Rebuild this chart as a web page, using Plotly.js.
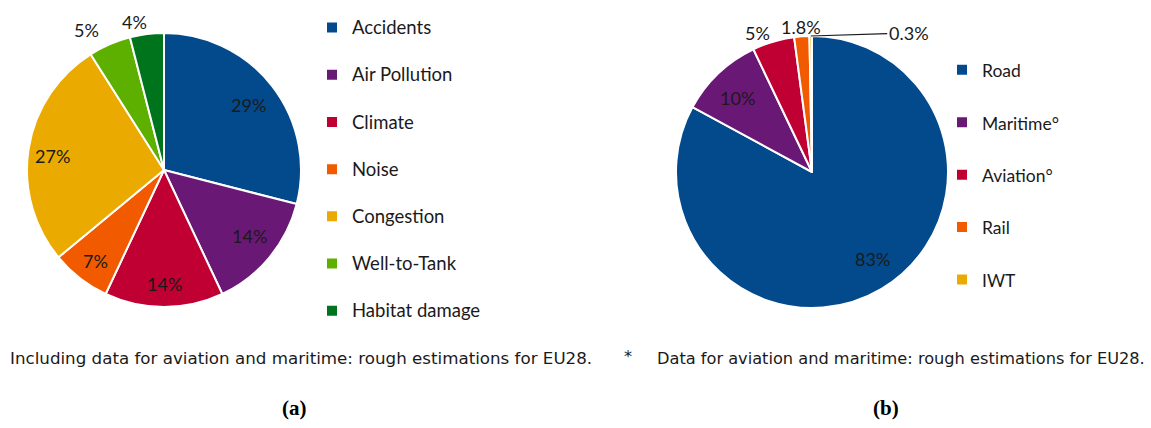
<!DOCTYPE html>
<html>
<head>
<meta charset="utf-8">
<script src="https://cdn.plot.ly/plotly-3.0.1.min.js"></script>
<style>html,body{margin:0;padding:0;background:#fff;}#chart{width:1151px;height:428px;}</style>
</head>
<body>
<div id="chart"></div>
<script>
// ---- data ----
const costCategories = ["Accidents", "Air Pollution", "Climate", "Noise", "Congestion", "Well-to-Tank", "Habitat damage"];
const costShares = [29, 14, 14, 7, 27, 5, 4];

const modeCategories = ["Road", "Maritime°", "Aviation°", "Rail", "IWT"];
const modeShares = [83, 10, 5, 1.8, 0.3];

const footnoteA = "Including data for aviation and maritime: rough estimations for EU28.";
const footnoteB = "Data for aviation and maritime: rough estimations for EU28.";
const panelA = "(a)";
const panelB = "(b)";

// ---- styles ----
const costColors = ["#034A8C", "#6A1876", "#C00033", "#F25A00", "#EBAA00", "#5EB000", "#00731D"];
const modeColors = ["#034A8C", "#6A1876", "#C00033", "#F25A00", "#EBAA00"];
// label placement: radial factor and angular shift (deg) relative to slice middle
const costLabelR = [0.78, 0.79, 0.83, 0.83, 0.82, 1.17, 1.10];
const costLabelShift = [0, -2, 0, -1, -2, -5.4, -3.9];
const modeLabelR = [0.78, 0.77, 1.10, 1.07, null];
const modeLabelShift = [-3.7, -1.8, -5, 0, 0];

const W = 1151, H = 428;
const px = v => v / W;
const py = v => 1 - v / H;

const pieA = {cx: 164, cy: 170, r: 137};
const pieB = {cx: 812, cy: 172, r: 136};

const legendLabel = (arr, size) => arr.map(s => '<span style="font-size:' + size + 'px">' + s + '</span><br> ');

function pieTrace(cats, vals, colors, geo, legendId, legSize) {
  return {
    type: "pie",
    labels: legendLabel(cats, legSize),
    values: vals,
    textinfo: "none",
    sort: false,
    direction: "clockwise",
    rotation: 0,
    marker: {colors: colors, line: {color: "#ffffff", width: 2}},
    domain: {x: [px(geo.cx - geo.r), px(geo.cx + geo.r)], y: [py(geo.cy + geo.r), py(geo.cy - geo.r)]},
    legend: legendId,
    hoverinfo: "percent"
  };
}

const labelFont = {family: "Lato, 'Open Sans', sans-serif", size: 18, color: "#1a1a1a"};

function sliceLabels(vals, geo, rf, shift) {
  const total = vals.reduce((a, b) => a + b, 0);
  let cum = 0;
  const out = [];
  vals.forEach((v, i) => {
    const mid = (cum + v / 2) / total;
    cum += v;
    const txt = v + "%";
    const th = (mid * 360 + (shift[i] || 0)) * Math.PI / 180;
    if (rf[i] === null) {
      // leader-line label at slice edge
      const tx = geo.cx + geo.r * Math.sin(th), ty = geo.cy - geo.r * Math.cos(th);
      out.push({text: txt, xref: "paper", yref: "paper", x: px(tx), y: py(ty), showarrow: true,
        arrowhead: 0, arrowwidth: 1.2, arrowcolor: "#1a1a1a", ax: 98, ay: -3, standoff: 0,
        font: labelFont});
    } else {
      const x = geo.cx + rf[i] * geo.r * Math.sin(th), y = geo.cy - rf[i] * geo.r * Math.cos(th);
      out.push({text: txt, xref: "paper", yref: "paper", x: px(x), y: py(y), xanchor: "center", yanchor: "middle",
        showarrow: false, font: labelFont});
    }
  });
  return out;
}

const traceA = pieTrace(costCategories, costShares, costColors, pieA, "legend", 18.5);
const traceB = pieTrace(modeCategories, modeShares, modeColors, pieB, "legend2", 17.5);

const legendFontA = {family: "Lato, 'Open Sans', sans-serif", size: 17, color: "#1a1a1a"};
const legendFontB = {family: "Lato, 'Open Sans', sans-serif", size: 19, color: "#1a1a1a"};
const noteFontA = {family: "DejaVu Sans", size: 16.7, color: "#1a1a1a"};
const noteFontB = {family: "DejaVu Sans", size: 16.2, color: "#1a1a1a"};
const panelFont = {family: "Liberation Serif", size: 21, color: "#000000"};

const layout = {
  width: W, height: H,
  margin: {l: 0, r: 0, t: 0, b: 0},
  paper_bgcolor: "#ffffff",
  showlegend: true,
  legend: {x: px(312), y: py(10), xanchor: "left", yanchor: "top", font: legendFontA, valign: "top", bgcolor: "rgba(0,0,0,0)"},
  legend2: {x: px(942), y: py(51), xanchor: "left", yanchor: "top", font: legendFontB, valign: "top", bgcolor: "rgba(0,0,0,0)"},
  annotations: [
    {text: footnoteA, xref: "paper", yref: "paper", x: px(8), y: py(358), xanchor: "left", yanchor: "middle", showarrow: false, font: noteFontA},
    {text: "*", xref: "paper", yref: "paper", x: px(628), y: py(356), xanchor: "center", yanchor: "middle", showarrow: false, font: noteFontB},
    {text: footnoteB, xref: "paper", yref: "paper", x: px(655), y: py(358), xanchor: "left", yanchor: "middle", showarrow: false, font: noteFontB},
    {text: "<b>" + panelA + "</b>", xref: "paper", yref: "paper", x: px(294), y: py(408), xanchor: "center", yanchor: "middle", showarrow: false, font: panelFont},
    {text: "<b>" + panelB + "</b>", xref: "paper", yref: "paper", x: px(886), y: py(408), xanchor: "center", yanchor: "middle", showarrow: false, font: panelFont}
  ].concat(sliceLabels(costShares, pieA, costLabelR, costLabelShift))
   .concat(sliceLabels(modeShares, pieB, modeLabelR, modeLabelShift))
};

Plotly.newPlot("chart", [traceA, traceB], layout, {staticPlot: true, displayModeBar: false});
</script>
</body>
</html>
